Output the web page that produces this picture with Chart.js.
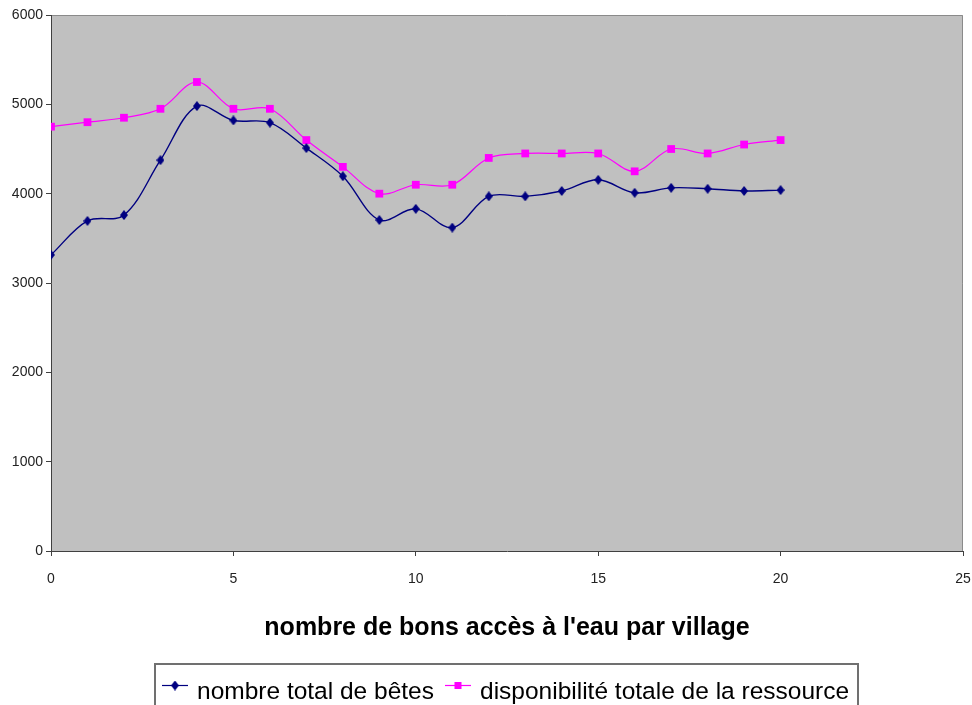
<!DOCTYPE html>
<html>
<head>
<meta charset="utf-8">
<script src="https://cdn.jsdelivr.net/npm/chart.js@4.4.1/dist/chart.umd.min.js"></script>
<style>
  html, body { margin: 0; padding: 0; background: #ffffff; }
  #wrap { width: 972px; height: 705px; position: relative; }
</style>
</head>
<body>
<div id="wrap"><canvas id="c" width="972" height="705"></canvas></div>
<script>
// ---- data ----
const VILLAGES = [0,1,2,3,4,5,6,7,8,9,10,11,12,13,14,15,16,17,18,19,20];
const BETES = [3315,3695,3760,4375,4980,4820,4795,4510,4195,3705,3830,3620,3970,3970,4030,4155,4010,4065,4055,4030,4040];
const RESSOURCE = [4750,4800,4850,4950,5250,4950,4950,4600,4300,4000,4100,4100,4400,4450,4450,4450,4250,4500,4450,4550,4600];
const LABEL_BETES = "nombre total de bêtes";
const LABEL_RESSOURCE = "disponibilité totale de la ressource";
const X_TITLE = "nombre de bons accès à l'eau par village";
const Y_TICKS = [0,1000,2000,3000,4000,5000,6000];
const X_TICKS = [0,5,10,15,20,25];

const FONT = "'Liberation Sans', Arial, sans-serif";
const NAVY = '#000080';
const MAGENTA = '#FF00FF';

// narrow diamond marker
function diamond(w, h, color) {
  const c = document.createElement('canvas');
  c.width = w; c.height = h;
  const g = c.getContext('2d');
  g.fillStyle = color;
  g.beginPath();
  g.moveTo(w/2, 0); g.lineTo(w, h/2); g.lineTo(w/2, h); g.lineTo(0, h/2);
  g.closePath(); g.fill();
  return c;
}
const DIAMOND = diamond(8, 10, NAVY);

const plotBg = {
  id: 'plotBg',
  beforeDraw(chart) {
    const {ctx, chartArea: a} = chart;
    ctx.save();
    ctx.fillStyle = '#C0C0C0';
    ctx.fillRect(a.left, a.top, a.right - a.left, a.bottom - a.top);
    ctx.strokeStyle = '#8a8a8a';
    ctx.lineWidth = 1;
    ctx.beginPath();
    ctx.moveTo(a.left, a.top + 0.5); ctx.lineTo(a.right - 0.5, a.top + 0.5); ctx.lineTo(a.right - 0.5, a.bottom);
    ctx.stroke();
    ctx.restore();
  }
};

const customLegend = {
  id: 'customLegend',
  afterDraw(chart) {
    const ctx = chart.ctx;
    const ds = chart.data.datasets;
    ctx.save();
    ctx.strokeStyle = '#707070';
    ctx.lineWidth = 2;
    ctx.strokeRect(155, 664, 703, 60);
    ctx.font = '24.5px ' + FONT;
    ctx.fillStyle = '#000000';
    ctx.textBaseline = 'alphabetic';
    const items = [
      {x: 162, textX: 197, d: ds[0]},
      {x: 445, textX: 480, d: ds[1]}
    ];
    const ly = 685.5;
    items.forEach(it => {
      ctx.strokeStyle = it.d.borderColor;
      ctx.lineWidth = 1.2;
      ctx.beginPath();
      ctx.moveTo(it.x, ly); ctx.lineTo(it.x + 26, ly);
      ctx.stroke();
      const cx = it.x + 13;
      if (it.d.pointStyle === 'rect') {
        ctx.fillStyle = it.d.pointBackgroundColor;
        ctx.fillRect(cx - 3.5, ly - 3.5, 7, 7);
      } else {
        ctx.drawImage(DIAMOND, cx - 4, ly - 5);
      }
      ctx.fillStyle = '#000000';
      ctx.fillText(it.d.label, it.textX, 699);
    });
    ctx.restore();
  }
};

new Chart(document.getElementById('c'), {
  type: 'line',
  data: {
    datasets: [
      {
        label: LABEL_BETES,
        data: VILLAGES.map((v, i) => ({x: v, y: BETES[i]})),
        borderColor: NAVY,
        backgroundColor: NAVY,
        borderWidth: 1.4,
        pointStyle: DIAMOND,
        pointBackgroundColor: NAVY,
        pointBorderColor: NAVY,
        pointRadius: 4,
        tension: 0.35,
        fill: false
      },
      {
        label: LABEL_RESSOURCE,
        data: VILLAGES.map((v, i) => ({x: v, y: RESSOURCE[i]})),
        borderColor: MAGENTA,
        backgroundColor: MAGENTA,
        borderWidth: 1.2,
        pointStyle: 'rect',
        pointBackgroundColor: MAGENTA,
        pointBorderColor: MAGENTA,
        pointBorderWidth: 0,
        pointRadius: 5.5,
        tension: 0.35,
        fill: false
      }
    ]
  },
  options: {
    responsive: false,
    animation: false,
    devicePixelRatio: 1,
    layout: { padding: { left: 0, right: 9, top: 15, bottom: 0 } },
    plugins: {
      legend: { display: false },
      tooltip: { enabled: false },
      title: { display: false }
    },
    scales: {
      x: {
        type: 'linear',
        min: 0, max: 25,
        afterBuildTicks(scale) { scale.ticks = X_TICKS.map(v => ({value: v})); },
        afterFit(scale) { scale.height = 154; scale.paddingLeft = 0; scale.paddingRight = 0; },
        grid: { drawOnChartArea: false, drawTicks: true, tickLength: 5, color: '#404040', tickColor: '#404040' },
        border: { display: true, color: '#404040', width: 1 },
        ticks: { padding: 15, color: '#222222', font: { family: FONT, size: 14 }, maxRotation: 0,
                 callback: v => String(v) },
        title: {
          display: true,
          text: X_TITLE,
          color: '#000000',
          font: { family: FONT, size: 25, weight: 'bold' },
          padding: { top: 0, bottom: 62 }
        }
      },
      y: {
        type: 'linear',
        min: 0, max: 6000,
        afterBuildTicks(scale) { scale.ticks = Y_TICKS.map(v => ({value: v})); },
        afterFit(scale) { scale.width = 51; scale.paddingTop = 0; scale.paddingBottom = 0; },
        grid: { drawOnChartArea: false, drawTicks: true, tickLength: 5, color: '#404040', tickColor: '#404040' },
        border: { display: true, color: '#404040', width: 1 },
        ticks: { padding: 3, color: '#222222', font: { family: FONT, size: 14 },
                 callback: v => String(v) }
      }
    }
  },
  plugins: [plotBg, customLegend]
});
</script>
</body>
</html>
